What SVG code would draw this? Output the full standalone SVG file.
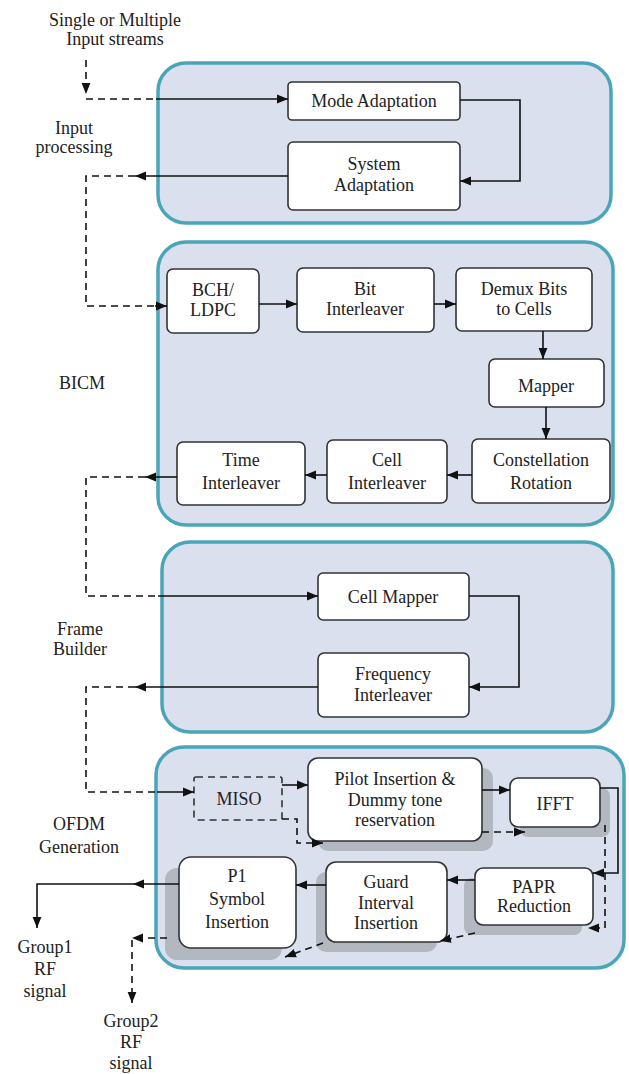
<svg xmlns="http://www.w3.org/2000/svg" width="629" height="1074" viewBox="0 0 629 1074">
<style>
.panel{fill:#dae0ee;stroke:#4aa5b9;stroke-width:3.5}
.box{fill:#ffffff;stroke:#333;stroke-width:1.6}
.dbox{fill:#dae0ee;stroke:#333;stroke-width:1.6;stroke-dasharray:7,5}
.shadow{fill:#a9acb3;opacity:0.8}
text{font-family:"Liberation Serif","DejaVu Serif","Times New Roman",serif;font-size:18px;fill:#222;text-anchor:middle}
.s{fill:none;stroke:#111;stroke-width:1.6}
.d{fill:none;stroke:#111;stroke-width:1.6;stroke-dasharray:7,5}
</style>
<defs>
<marker id="ah" viewBox="0 0 10 10" refX="10" refY="5" markerWidth="11" markerHeight="11" markerUnits="userSpaceOnUse" orient="auto">
<path d="M0,1 L10,5 L0,9 z" fill="#111"/>
</marker>
</defs>
<rect width="629" height="1074" fill="#ffffff"/>

<g id="panel-input">
<rect class="panel" x="158" y="63" width="453" height="160" rx="28"/>
</g>
<g id="panel-bicm">
<rect class="panel" x="158" y="242" width="455" height="283" rx="28"/>
</g>
<g id="panel-frame">
<rect class="panel" x="162" y="542" width="451" height="190" rx="28"/>
</g>
<g id="panel-ofdm">
<rect class="panel" x="156" y="747" width="468" height="221" rx="28"/>
</g>

<g id="label-input-streams" font-family="Liberation Serif, serif">
<text x="115" y="26">Single or Multiple</text>
<text x="115" y="45">Input streams</text>
</g>
<g id="label-input-processing">
<text x="74" y="134">Input</text>
<text x="74" y="153">processing</text>
</g>
<g id="label-bicm"><text x="82" y="389">BICM</text></g>
<g id="label-frame-builder">
<text x="80" y="635">Frame</text>
<text x="80" y="655">Builder</text>
</g>
<g id="label-ofdm">
<text x="79" y="830">OFDM</text>
<text x="79" y="853">Generation</text>
</g>
<g id="label-group1">
<text x="45" y="953">Group1</text>
<text x="45" y="975">RF</text>
<text x="45" y="997">signal</text>
</g>
<g id="label-group2">
<text x="131" y="1027">Group2</text>
<text x="131" y="1048">RF</text>
<text x="131" y="1069">signal</text>
</g>

<g id="mode-adaptation">
<rect class="box" x="288" y="82" width="172" height="38" rx="4"/>
<text x="374" y="107">Mode Adaptation</text>
</g>
<g id="system-adaptation">
<rect class="box" x="288" y="142" width="172" height="68" rx="5"/>
<text x="374" y="170">System</text>
<text x="374" y="191">Adaptation</text>
</g>

<g id="bch-ldpc">
<rect class="box" x="167" y="269" width="92" height="64" rx="6"/>
<text x="213" y="296">BCH/</text>
<text x="213" y="316">LDPC</text>
</g>
<g id="bit-interleaver">
<rect class="box" x="297" y="268" width="137" height="64" rx="6"/>
<text x="365" y="295">Bit</text>
<text x="365" y="315">Interleaver</text>
</g>
<g id="demux">
<rect class="box" x="456" y="268" width="136" height="63" rx="6"/>
<text x="524" y="295">Demux Bits</text>
<text x="524" y="315">to Cells</text>
</g>
<g id="mapper">
<rect class="box" x="489" y="359" width="115" height="48" rx="6"/>
<text x="546" y="392">Mapper</text>
</g>
<g id="constellation-rotation">
<rect class="box" x="472" y="439" width="138" height="64" rx="6"/>
<text x="541" y="466">Constellation</text>
<text x="541" y="489">Rotation</text>
</g>
<g id="cell-interleaver">
<rect class="box" x="327" y="440" width="120" height="63" rx="6"/>
<text x="387" y="466">Cell</text>
<text x="387" y="489">Interleaver</text>
</g>
<g id="time-interleaver">
<rect class="box" x="177" y="442" width="128" height="63" rx="6"/>
<text x="241" y="466">Time</text>
<text x="241" y="489">Interleaver</text>
</g>

<g id="cell-mapper">
<rect class="box" x="318" y="573" width="151" height="47" rx="5"/>
<text x="393" y="603">Cell Mapper</text>
</g>
<g id="frequency-interleaver">
<rect class="box" x="318" y="653" width="151" height="64" rx="6"/>
<text x="393" y="680">Frequency</text>
<text x="393" y="701">Interleaver</text>
</g>

<g id="miso">
<rect class="dbox" x="194" y="777" width="88" height="43" rx="2"/>
<text x="239" y="805">MISO</text>
</g>
<g id="pilot-insertion">
<rect class="shadow" x="318" y="768" width="175" height="83" rx="10"/>
<rect class="box" x="308" y="758" width="174" height="83" rx="10"/>
<text x="395" y="785">Pilot Insertion &amp;</text>
<text x="395" y="806">Dummy tone</text>
<text x="395" y="826">reservation</text>
</g>
<g id="ifft">
<rect class="shadow" x="520" y="788" width="90" height="49" rx="8"/>
<rect class="box" x="510" y="778" width="90" height="49" rx="8"/>
<text x="555" y="810">IFFT</text>
</g>
<g id="papr-reduction">
<rect class="shadow" x="464" y="878" width="118" height="57" rx="8"/>
<rect class="box" x="475" y="868" width="118" height="57" rx="8"/>
<text x="534" y="893">PAPR</text>
<text x="534" y="912">Reduction</text>
</g>
<g id="guard-interval">
<rect class="shadow" x="316" y="872" width="121" height="80" rx="10"/>
<rect class="box" x="326" y="862" width="121" height="80" rx="10"/>
<text x="386" y="888">Guard</text>
<text x="386" y="909">Interval</text>
<text x="386" y="929">Insertion</text>
</g>
<g id="p1-symbol">
<rect class="shadow" x="165" y="868" width="117" height="92" rx="12"/>
<rect class="box" x="179" y="857" width="117" height="91" rx="12"/>
<text x="237" y="882">P1</text>
<text x="237" y="905">Symbol</text>
<text x="237" y="928">Insertion</text>
</g>

<g id="connectors">
<path class="d" d="M86,60 V94" marker-end="url(#ah)"/>
<path class="d" d="M86,99 H156"/>
<path class="s" d="M156,99 H288" marker-end="url(#ah)"/>
<path class="s" d="M460,100 H520 V181 H460" marker-end="url(#ah)"/>
<path class="s" d="M288,176 H135" marker-end="url(#ah)"/>
<path class="d" d="M135,176 H86 V306 H155"/>
<path class="s" d="M155,306 H167" marker-end="url(#ah)"/>
<path class="s" d="M259,304 H297" marker-end="url(#ah)"/>
<path class="s" d="M434,304 H456" marker-end="url(#ah)"/>
<path class="s" d="M543,331 V359" marker-end="url(#ah)"/>
<path class="s" d="M546,407 V439" marker-end="url(#ah)"/>
<path class="s" d="M472,475 H447" marker-end="url(#ah)"/>
<path class="s" d="M327,475 H305" marker-end="url(#ah)"/>
<path class="s" d="M177,477 H145" marker-end="url(#ah)"/>
<path class="d" d="M145,477 H86 V596 H158"/>
<path class="s" d="M158,596 H318" marker-end="url(#ah)"/>
<path class="s" d="M469,596 H519 V687 H469" marker-end="url(#ah)"/>
<path class="s" d="M318,687 H135" marker-end="url(#ah)"/>
<path class="d" d="M135,687 H86 V792 H157"/>
<path class="s" d="M157,792 H194" marker-end="url(#ah)"/>
<path class="s" d="M282,785 H308" marker-end="url(#ah)"/>
<path class="d" d="M282,819 H297 V843 H323" marker-end="url(#ah)"/>
<path class="s" d="M482,790 H510" marker-end="url(#ah)"/>
<path class="d" d="M482,832 H525" marker-end="url(#ah)"/>
<path class="s" d="M600,788 H618 V873 H593" marker-end="url(#ah)"/>
<path class="d" d="M605,825 V928 H588" marker-end="url(#ah)"/>
<path class="s" d="M475,880 H447" marker-end="url(#ah)"/>
<path class="d" d="M475,933 L440,941" marker-end="url(#ah)"/>
<path class="s" d="M326,885 H296" marker-end="url(#ah)"/>
<path class="d" d="M323,943 L285,957" marker-end="url(#ah)"/>
<path class="s" d="M179,884 H133" marker-end="url(#ah)"/>
<path class="s" d="M133,884 H37 V928" marker-end="url(#ah)"/>
<path class="d" d="M167,938 H132" marker-end="url(#ah)"/>
<path class="d" d="M132,940 V1003" marker-end="url(#ah)"/>
</g>
</svg>
